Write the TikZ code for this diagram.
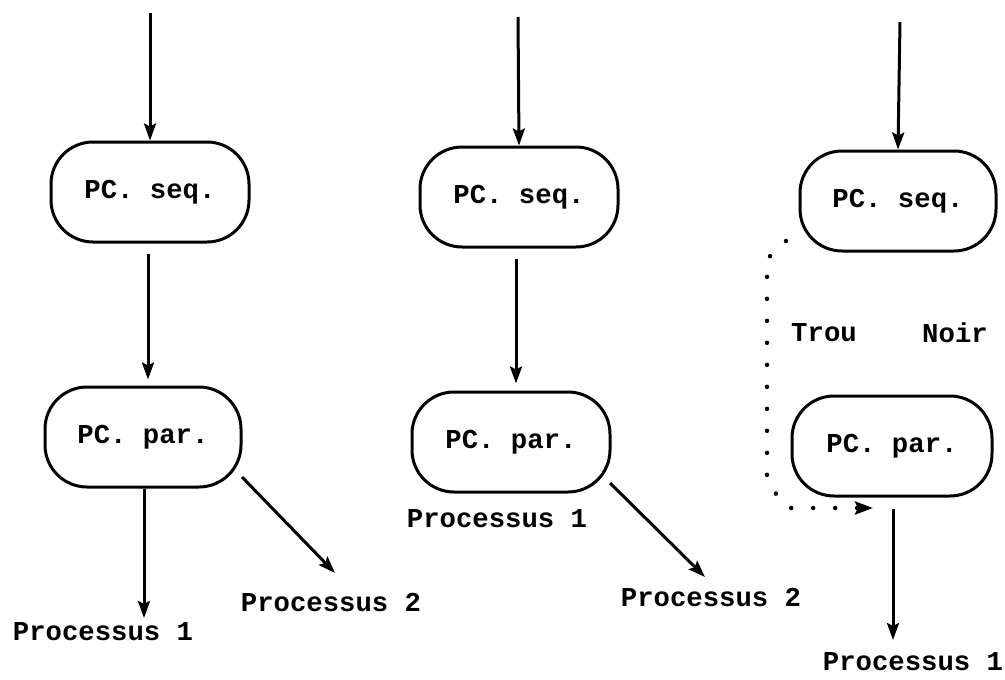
\documentclass[tikz,border=0pt]{standalone}
\usepackage{fontspec}
\setmonofont{Liberation Mono}
\usetikzlibrary{arrows.meta}
\tikzset{
  pc/.style={draw, line width=3pt, rounded corners=42pt,
    minimum width=198pt, minimum height=100pt, inner sep=0pt,
    font=\ttfamily\bfseries\fontsize{27.3}{30}\selectfont},
  lbl/.style={inner sep=0pt, font=\ttfamily\bfseries\fontsize{27.3}{30}\selectfont},
  flow/.style={line width=3pt, -{Stealth[length=17pt,width=12pt,inset=3pt]}},
  hole/.style={line width=4.5pt, line cap=round, dash pattern=on 0pt off 22pt,
    -{Stealth[length=18pt,width=13pt,inset=3pt]}}
}
\begin{document}
\begin{tikzpicture}[x=1pt,y=-1pt]
\useasboundingbox (0,0) rectangle (1005,680);

% left column: sequential then parallel, two processes
\node[pc] (s1) at (150,192) {PC. seq.};
\node[pc, minimum width=196pt] (p1) at (143,437) {PC. par.};
\coordinate (t1) at (150,13);
\coordinate (e1a) at (144,618);
\coordinate (e1b) at (335,573);
\node[lbl] (q1a) at (103,632) {Processus 1};
\node[lbl] (q1b) at (331,602) {Processus 2};
\draw[flow] (t1) -- (s1.north);
\draw[flow, shorten <=10pt, shorten >=6pt] (s1.south -| 148,0) -- (p1.north -| 148,0);
\draw[flow] (p1.south -| e1a) -- (e1a);
\draw[flow] (242,477) -- (e1b);

% middle column: first process stays in place
\node[pc] (s2) at (519,197) {PC. seq.};
\node[pc] (p2) at (511,442) {PC. par.};
\coordinate (t2) at (518,17);
\coordinate (e2b) at (705,577);
\node[lbl] (q2a) at (497,519) {Processus 1};
\node[lbl] (q2b) at (711,597) {Processus 2};
\draw[flow] (t2) -- (s2.north);
\draw[flow, shorten <=10pt, shorten >=7pt] (s2.south -| 516,0) -- (p2.north -| 516,0);
\draw[flow] (610,483) -- (e2b);

% right column: black hole between the two
\node[pc, minimum width=196pt] (s3) at (898,201) {PC. seq.};
\node[pc, minimum width=200pt] (p3) at (892,446) {PC. par.};
\coordinate (t3) at (900,22);
\coordinate (e3a) at (893,640);
\coordinate (h3) at (873,508);
\node[lbl] (tr) at (824,333) {Trou};
\node[lbl] (nr) at (955,333) {Noir};
\node[lbl] (q3a) at (913,662) {Processus 1};
\draw[flow] (t3) -- (s3.north);
\draw[flow] (893,509) -- (e3a);
\draw[hole] (786,241) -- (767,259) -- (767,483) -- (788,508) -- (h3);
\end{tikzpicture}
\end{document}
